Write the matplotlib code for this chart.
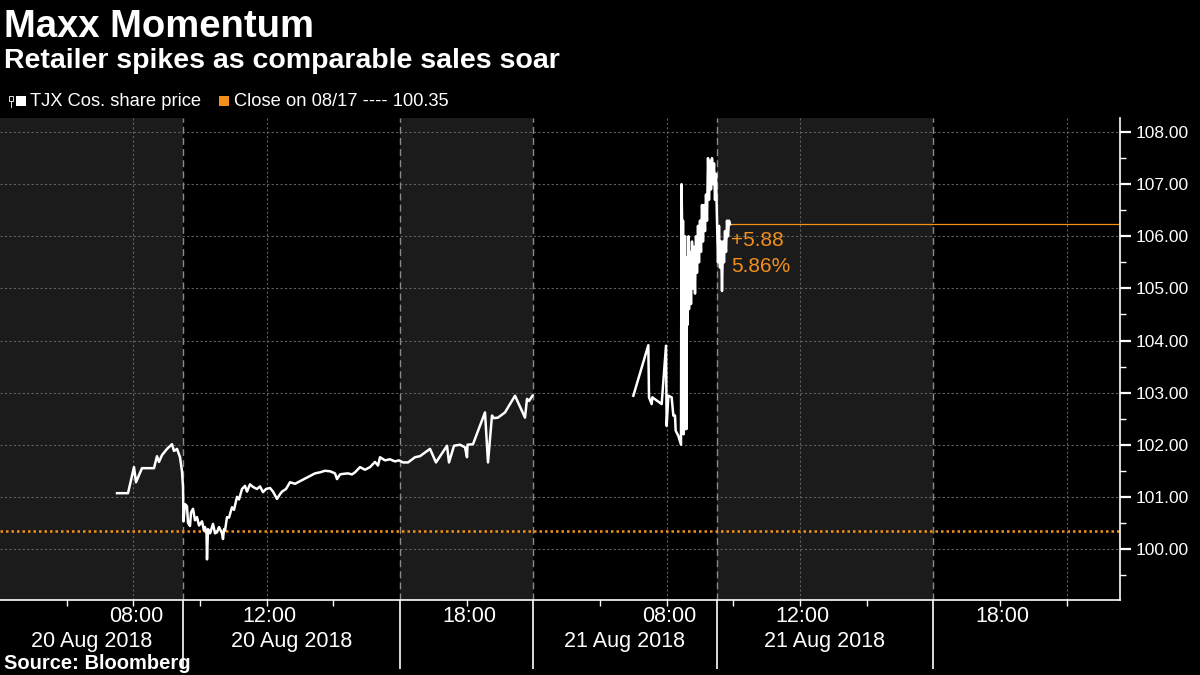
import numpy as np
import matplotlib
matplotlib.use("Agg")
import matplotlib.pyplot as plt
from matplotlib.lines import Line2D
from matplotlib.patches import Rectangle
import matplotlib.transforms as mtransforms

plt.rcParams['font.family'] = ['Liberation Sans', 'DejaVu Sans']

# TJX share price, 20 Aug 2018 (clock hours, US Eastern)
d1_hours = [7.51, 7.84, 8.02, 8.08, 8.26, 8.62, 8.71, 8.77, 8.86, 9.01, 9.16, 9.22, 9.31, 9.40, 9.46,
            9.49, 9.505, 9.55, 9.61, 9.64, 9.70, 9.73, 9.79, 9.85, 9.91, 9.97, 10.06, 10.12, 10.15,
            10.195, 10.21, 10.24, 10.30, 10.39, 10.45, 10.51, 10.57, 10.60, 10.66, 10.69, 10.72, 10.75,
            10.81, 10.87, 10.96, 11.02, 11.11, 11.17, 11.26, 11.35, 11.41, 11.50, 11.59, 11.71, 11.80,
            11.89, 11.98, 12.10, 12.19, 12.31, 12.40, 12.46, 12.58, 12.70, 12.85, 13.00, 13.15, 13.30,
            13.45, 13.60, 13.75, 13.90, 14.05, 14.11, 14.20, 14.29, 14.44, 14.56, 14.65, 14.80, 14.95,
            15.10, 15.25, 15.34, 15.40, 15.55, 15.70, 15.85, 15.97,
            16.09, 16.24, 16.45, 16.60, 16.90, 17.08, 17.41, 17.47, 17.62, 17.80, 17.95, 18.01, 18.025,
            18.19, 18.55, 18.64, 18.76, 18.82, 18.94, 19.15, 19.45, 19.75, 19.81, 19.87, 19.975]
d1_price = [101.07, 101.07, 101.57, 101.28, 101.55, 101.55, 101.78, 101.67, 101.80, 101.92, 102.01, 101.88, 101.92, 101.76, 101.49,
            101.19, 100.53, 100.86, 100.82, 100.50, 100.44, 100.70, 100.77, 100.55, 100.61, 100.45, 100.53, 100.35, 100.42,
            100.30, 99.80, 100.38, 100.30, 100.48, 100.30, 100.32, 100.42, 100.38, 100.30, 100.19, 100.38, 100.35,
            100.61, 100.60, 100.80, 100.75, 101.00, 100.95, 101.15, 101.21, 101.10, 101.24, 101.19, 101.15, 101.20,
            101.09, 101.15, 101.17, 101.10, 100.96, 101.05, 101.10, 101.15, 101.28, 101.25, 101.30, 101.35, 101.40,
            101.45, 101.47, 101.50, 101.49, 101.45, 101.34, 101.43, 101.44, 101.45, 101.43, 101.47, 101.57, 101.52,
            101.57, 101.67, 101.60, 101.76, 101.70, 101.72, 101.68, 101.70,
            101.66, 101.66, 101.76, 101.78, 101.92, 101.66, 101.98, 101.66, 101.98, 102.00, 101.95, 101.76, 102.00,
            102.01, 102.62, 101.66, 102.56, 102.51, 102.52, 102.62, 102.94, 102.52, 102.88, 102.84, 102.94]

# TJX share price, 21 Aug 2018
d2_hours = [7.00, 7.45, 7.47, 7.55, 7.57, 7.85, 7.98, 8.00, 8.05, 8.15, 8.20, 8.25, 8.27, 8.35,
            8.43, 8.445, 8.46, 8.475, 8.49, 8.505, 8.52, 8.535, 8.55, 8.565, 8.58, 8.595, 8.61, 8.625,
            8.655, 8.67, 8.70, 8.73, 8.76, 8.79, 8.82, 8.85, 8.88, 8.91, 8.94, 8.97, 9.00, 9.03, 9.06,
            9.09, 9.12, 9.15, 9.18, 9.21, 9.24, 9.27, 9.30, 9.33, 9.36, 9.39, 9.42, 9.45, 9.48, 9.51,
            9.54, 9.57, 9.60, 9.63, 9.66, 9.69, 9.72, 9.75, 9.78, 9.81, 9.84, 9.87, 9.90]
d2_price = [102.94, 103.91, 102.91, 102.78, 102.91, 102.78, 103.90, 102.36, 102.94, 102.91, 102.56, 102.56, 102.27, 102.17,
            102.00, 107.00, 106.40, 102.50, 106.30, 102.20, 105.30, 102.40, 106.00, 102.30, 105.40, 102.30, 105.60, 104.30,
            106.00, 104.60, 105.70, 104.70, 105.90, 105.00, 105.80, 104.90, 106.00, 105.30, 106.20, 105.50, 106.30, 105.70, 106.60,
            105.90, 106.60, 106.10, 106.80, 106.30, 107.50, 106.70, 107.45, 106.90, 107.50, 107.00, 107.40, 106.70, 107.20, 106.30,
            105.50, 106.20, 105.40, 105.90, 104.95, 105.90, 105.50, 106.10, 105.70, 106.30, 106.00, 106.30, 106.23]

prev_close = 100.35
last_price = 106.23
chg_text = "+5.88"
pct_text = "5.86%"

yticks = [100, 101, 102, 103, 104, 105, 106, 107, 108]
time_ticks = [4, 8, 14, 20, 24, 30]          # compressed hours
time_labels = ["08:00", "12:00", "18:00", "08:00", "12:00", "18:00"]
date_pos = [2.75, 8.75, 18.75, 24.75]
date_labels = ["20 Aug 2018", "20 Aug 2018", "21 Aug 2018", "21 Aug 2018"]
session_edges = [0, 5.5, 12, 16, 21.5, 28, 33.6]

ORANGE = '#f39019'
SHADE = '#1b1b1b'

# overnight 20:00 -> 04:00 is collapsed
x1 = np.array(d1_hours) - 4
x2 = np.array(d2_hours) - 4 + 16

fig = plt.figure(figsize=(12, 6.75), dpi=100, facecolor='black')
ax = fig.add_axes([0, 75 / 675, 1120 / 1200, 482 / 675], facecolor='black')
ax.set_xlim(0, 33.6)
ax.set_ylim(99.02, 108.27)

# alternate session shading
for i in range(len(session_edges) - 1):
    if i % 2 == 0:
        ax.axvspan(session_edges[i], session_edges[i + 1], color=SHADE, lw=0, zorder=0)

# grid
for y in yticks:
    ax.axhline(y, color='#606060', lw=0.8, ls=(0, (2, 2)), zorder=1)
for gx in [4, 8, 20, 24, 32]:
    ax.axvline(gx, color='#606060', lw=0.8, ls=(0, (2, 2)), zorder=1)
for sx in session_edges[1:-1]:
    ax.axvline(sx, color='#8a8a8a', lw=1.0, ls=(0, (5, 3)), zorder=1)

ax.axhline(prev_close, color=ORANGE, lw=1.8, ls=(0, (1, 1.2)), zorder=2)

ax.plot(x1, d1_price, color='white', lw=1.8, zorder=3)
ax.plot(x2, d2_price, color='white', lw=1.8, zorder=3)

ax.plot([x2[-1], 33.6], [last_price, last_price], color=ORANGE, lw=0.9, zorder=2)
ax.text(x2[-1] + 0.02, last_price - 0.13, chg_text, color=ORANGE, fontsize=15, va='top', ha='left')
ax.text(x2[-1] + 0.02, last_price - 0.63, pct_text, color=ORANGE, fontsize=15, va='top', ha='left')

# axes styling
for s in ['top', 'left']:
    ax.spines[s].set_visible(False)
ax.spines['right'].set_color('white')
ax.spines['bottom'].set_color('white')
ax.spines['right'].set_linewidth(1.2)
ax.spines['bottom'].set_linewidth(1.2)

ax.yaxis.tick_right()
ax.set_yticks(yticks)
ax.set_yticklabels([f"{v:.2f}" for v in yticks])
ax.set_yticks(np.arange(99.5, 108.0, 1.0), minor=True)
ax.tick_params(axis='y', which='major', direction='out', length=8, width=1.6, colors='white',
               labelsize=12.5, pad=3)
ax.tick_params(axis='y', which='minor', direction='out', length=4, width=1, colors='white')

ax.set_xticks(session_edges[1:-1])
ax.set_xticks(np.arange(2, 33, 2), minor=True)
ax.set_xticklabels([])
ax.tick_params(axis='x', which='major', direction='out', length=50, width=1.2, colors='white')
ax.tick_params(axis='x', which='minor', direction='out', length=4, width=1, colors='white')

trans = mtransforms.blended_transform_factory(ax.transData, fig.transFigure)
for t, lab in zip(time_ticks, time_labels):
    ax.text(t + 0.08, 1 - 622 / 675, lab, transform=trans, color='white', fontsize=15.5,
            ha='center', va='baseline')
for d, lab in zip(date_pos, date_labels):
    ax.text(d, 1 - 647 / 675, lab, transform=trans, color='white', fontsize=15.5,
            ha='center', va='baseline')

# titles
fig.text(4 / 1200, 1 - 37 / 675, "Maxx Momentum", color='white', fontsize=27.5, fontweight='bold',
         va='baseline')
fig.text(4 / 1200, 1 - 68 / 675, "Retailer spikes as comparable sales soar", color='white',
         fontsize=20.5, fontweight='bold', va='baseline')
fig.text(4 / 1200, 1 - 669 / 675, "Source: Bloomberg", color='white', fontsize=14.5,
         fontweight='bold', va='baseline')

# legend row
W, H = 1200, 675
fig.add_artist(Rectangle((9 / W, 1 - 101 / H), 4 / W, 5 / H, transform=fig.transFigure,
                         fill=False, ec='white', lw=0.6))
fig.add_artist(Line2D([11 / W, 11 / W], [1 - 101 / H, 1 - 107 / H], transform=fig.transFigure,
                      color='white', lw=0.6))
fig.add_artist(Rectangle((16 / W, 1 - 106 / H), 10 / W, 10 / H, transform=fig.transFigure,
                         color='white', lw=0))
fig.text(30 / W, 1 - 106 / H, "TJX Cos. share price", color='white', fontsize=13.2, va='baseline')
fig.add_artist(Rectangle((219 / W, 1 - 106 / H), 10 / W, 10 / H, transform=fig.transFigure,
                         color=ORANGE, lw=0))
fig.text(234 / W, 1 - 106 / H, "Close on 08/17 ---- 100.35", color='white', fontsize=13.2,
         va='baseline')

fig.savefig("out.png", dpi=100, facecolor='black')
